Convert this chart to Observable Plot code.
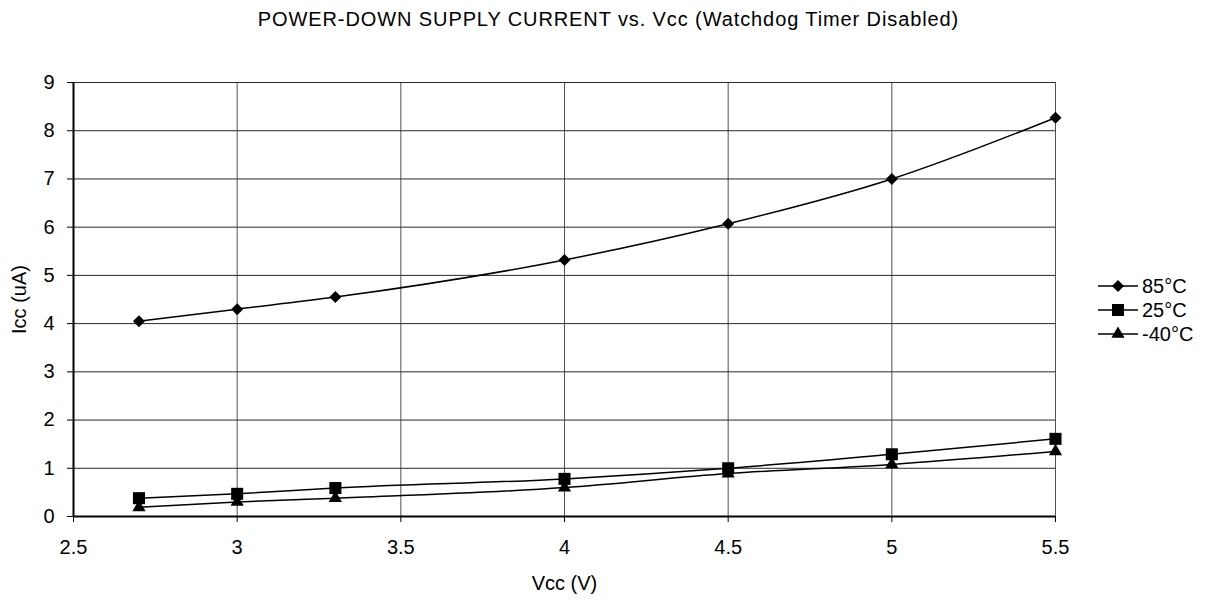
<!DOCTYPE html>
<html><head><meta charset="utf-8">
<script src="https://cdn.jsdelivr.net/npm/d3@7"></script>
<script src="https://cdn.jsdelivr.net/npm/@observablehq/plot@0.6"></script>
<style>
body{margin:0;background:#fff;font-family:"Liberation Sans",Arial,sans-serif;}
#wrap{position:relative;width:1217px;height:601px;overflow:hidden;}
#title{position:absolute;top:8px;left:0;width:1217px;text-align:center;font-size:20px;letter-spacing:0.9px;color:#000;white-space:nowrap;}
#chart{position:absolute;top:40px;left:0;}
#legend{position:absolute;left:1090px;top:272px;}
</style></head><body>
<div id="wrap">
<div id="title">POWER-DOWN SUPPLY CURRENT vs. Vcc (Watchdog Timer Disabled)</div>
<div id="chart"></div>
<div id="legend"></div>
</div>
<script>
const vcc = [2.7, 3, 3.3, 4, 4.5, 5, 5.5];
const icc85 = [4.05, 4.3, 4.55, 5.32, 6.07, 7.0, 8.27];
const icc25 = [0.38, 0.47, 0.59, 0.78, 1.0, 1.29, 1.61];
const iccM40 = [0.19, 0.30, 0.38, 0.60, 0.89, 1.08, 1.35];
const seriesNames = ["85°C", "25°C", "-40°C"];
const seriesSymbols = ["diamond2", "square", "triangle"];
const symbolR = [5.4, 6.8, 4.9];
const xTicks = [2.5, 3, 3.5, 4, 4.5, 5, 5.5];
const yTicks = [0, 1, 2, 3, 4, 5, 6, 7, 8, 9];

const seriesValues = [icc85, icc25, iccM40];
const rows = seriesValues.map((vals, i) => vcc.map((v, j) => ({x: v, y: vals[j], s: seriesNames[i]})));

const font = '"Liberation Sans", Arial, sans-serif';
const chart = Plot.plot({
  width: 1217,
  height: 561,
  marginTop: 42,
  marginBottom: 85,
  marginLeft: 73,
  marginRight: 162,
  style: {fontFamily: font, fontSize: "20px", color: "#000", background: "#fff", overflow: "visible"},
  x: {domain: [2.5, 5.5]},
  y: {domain: [0, 9]},
  marks: [
    Plot.gridY(yTicks, {stroke: "#000", strokeOpacity: 0.85}),
    Plot.gridX(xTicks, {stroke: "#333", strokeOpacity: 0.85}),
    Plot.axisX(xTicks, {tickSize: 6, tickPadding: 17, tickFormat: d => String(d), label: "Vcc (V)", labelAnchor: "center", labelOffset: 73, labelArrow: "none"}),
    Plot.axisY(yTicks, {tickSize: 6, tickPadding: 13, tickFormat: d => String(d), label: "Icc (uA)", labelAnchor: "center", labelOffset: 62, labelArrow: "none"}),
    Plot.ruleY([0], {stroke: "#000", strokeWidth: 2}),
    Plot.ruleX([2.5], {stroke: "#000", strokeWidth: 2}),
    ...rows.map(r => Plot.line(r, {x: "x", y: "y", stroke: "#000", strokeWidth: 1.5, curve: "monotone-x"})),
    ...rows.map((r, i) => Plot.dot(r, {x: "x", y: "y", symbol: () => seriesSymbols[i], r: symbolR[i], fill: "#000", stroke: "none"}))
  ]
});
document.getElementById("chart").appendChild(chart);

// legend
const lg = d3.select("#legend").append("svg").attr("width", 127).attr("height", 80)
  .style("font-family", font).style("font-size", "20px");
seriesNames.forEach((name, i) => {
  const g = lg.append("g").attr("transform", `translate(0,${14 + i * 24})`);
  g.append("line").attr("x1", 8).attr("x2", 48).attr("y1", 0).attr("y2", 0).attr("stroke", "#000").attr("stroke-width", 1.5);
  const sym = [d3.symbolDiamond2, d3.symbolSquare, d3.symbolTriangle][i];
  g.append("path").attr("transform", "translate(28,0)").attr("d", d3.symbol(sym, Math.PI * symbolR[i] * symbolR[i])()).attr("fill", "#000");
  g.append("text").attr("x", 52).attr("y", 0).attr("dy", "0.35em").text(name);
});
</script>
</body></html>
